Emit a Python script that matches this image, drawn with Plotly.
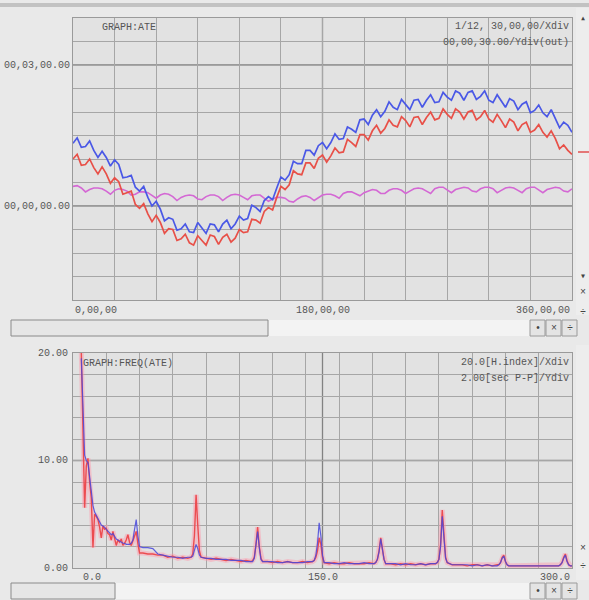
import plotly.graph_objects as go

W, H = 589, 600

# ---------------- DATA ----------------
# Top chart: angle (degrees) vs time offset (seconds)
DEG = list(range(0, 361, 3))
BLUE_SEC = [80, 87, 75, 76, 83, 71, 62, 70, 62, 51, 59, 53, 36, 37, 39, 24, 19, 25, 11, 0,
            6, -4, -19, -15, -17, -31, -29, -23, -33, -34, -21, -28, -35, -23, -24, -33, -23, -18, -29, -23,
            -13, -18, -16, 1, -2, -7, 7, 12, 8, 23, 37, 33, 40, 57, 54, 54, 71, 71, 65, 77,
            81, 73, 81, 92, 85, 86, 101, 98, 94, 110, 111, 104, 116, 123, 114, 121, 133, 126, 123, 136,
            130, 123, 135, 136, 126, 135, 142, 132, 133, 145, 139, 135, 147, 144, 135, 145, 147, 136, 140, 147,
            135, 132, 142, 134, 126, 137, 134, 123, 130, 133, 119, 122, 129, 119, 114, 123, 112, 100, 107, 103,
            94]
RED_SEC = [60, 66, 52, 53, 60, 49, 41, 50, 41, 29, 36, 31, 15, 17, 19, 2, -3, 3, -10, -20,
           -12, -21, -35, -29, -30, -44, -42, -36, -47, -50, -38, -44, -50, -37, -39, -49, -40, -36, -46, -41,
           -30, -34, -33, -17, -18, -22, -7, -2, -5, 11, 25, 21, 27, 45, 41, 40, 55, 55, 48, 61,
           65, 56, 64, 74, 68, 69, 85, 81, 76, 91, 91, 84, 96, 103, 93, 99, 110, 103, 101, 114,
           109, 101, 113, 114, 104, 113, 120, 110, 112, 124, 117, 112, 124, 120, 111, 120, 122, 110, 114, 122,
           111, 107, 117, 109, 100, 111, 107, 96, 104, 107, 94, 97, 104, 94, 88, 96, 86, 73, 78, 71,
           66]
MAGENTA_SEC = [25, 26, 23, 18, 21, 23, 23, 22, 19, 15, 20, 22, 21, 19, 14, 15, 18, 18, 17, 13,
               10, 14, 16, 15, 12, 7, 11, 13, 14, 13, 9, 8, 12, 14, 14, 12, 7, 11, 14, 15,
               14, 11, 8, 13, 14, 14, 10, 6, 9, 11, 11, 10, 6, 5, 9, 12, 13, 11, 7, 10,
               14, 15, 15, 13, 10, 16, 18, 18, 16, 13, 17, 19, 21, 20, 16, 16, 20, 22, 22, 20,
               16, 19, 22, 23, 22, 19, 16, 22, 24, 24, 21, 17, 21, 23, 24, 23, 19, 18, 22, 24,
               24, 22, 17, 20, 23, 24, 23, 20, 17, 22, 24, 24, 21, 17, 21, 23, 24, 23, 19, 18,
               22]

# Bottom chart: harmonic index vs amplitude (sec P-P)
H_INDEX = [5, 6, 7, 8, 9, 10, 11, 12, 13, 14, 15, 16, 17, 18, 19, 20, 21, 22, 23, 24,
           25, 26, 27, 28, 29, 30, 31, 32, 33, 34, 35, 36, 37, 38, 39, 40,
           42, 45, 48, 51, 54, 57, 60, 63, 66, 69, 71, 72, 73, 74, 75, 76, 77,
           80, 83, 86, 89, 92, 95, 98, 101, 104, 107, 108, 109, 110, 111, 112, 113, 114,
           117, 120, 123, 126, 129, 132, 135, 138, 141, 144, 145, 146, 147, 148, 149, 150, 151,
           154, 157, 160, 163, 166, 169, 172, 175, 178, 181, 182, 183, 184, 185, 186, 187, 188,
           191, 194, 197, 200, 203, 206, 209, 212, 215, 218, 219, 220, 221, 222, 223, 224, 225,
           228, 231, 234, 237, 240, 243, 246, 249, 252, 255, 256, 257, 258, 259, 260, 261, 262,
           265, 268, 271, 274, 277, 280, 283, 286, 289, 292, 293, 294, 295, 296, 297, 298, 299, 300]
RED_AMP = [20.0, 12.0, 5.6, 9.5, 10.2, 8.0, 6.5, 1.9, 5.0, 4.8, 4.5, 3.8, 2.8, 3.9, 3.6, 3.7, 3.2, 3.1, 2.6, 3.4,
           2.8, 2.1, 2.6, 2.4, 2.7, 2.1, 2.3, 2.6, 3.1, 2.4, 2.1, 2.5, 3.0, 3.4, 2.3, 1.4,
           1.4, 1.3, 1.3, 1.2, 1.2, 1.0, 1.1, 0.9, 1.0, 0.9, 1.0, 1.3, 3.0, 6.8, 4.0, 1.6, 1.0,
           0.9, 0.8, 0.9, 0.8, 0.7, 0.8, 0.7, 0.6, 0.7, 0.6, 0.7, 1.0, 2.2, 3.8, 2.0, 0.9, 0.6,
           0.6, 0.5, 0.6, 0.5, 0.6, 0.5, 0.5, 0.6, 0.5, 0.6, 0.7, 1.0, 1.6, 2.8, 2.2, 1.0, 0.5,
           0.4, 0.5, 0.4, 0.4, 0.5, 0.4, 0.4, 0.4, 0.5, 0.4, 0.5, 0.8, 1.6, 2.8, 1.8, 0.8, 0.4,
           0.4, 0.3, 0.4, 0.3, 0.4, 0.3, 0.4, 0.3, 0.4, 0.4, 0.5, 0.8, 2.2, 5.4, 3.0, 1.0, 0.5,
           0.3, 0.3, 0.3, 0.2, 0.3, 0.3, 0.2, 0.3, 0.2, 0.3, 0.3, 0.5, 1.0, 1.2, 0.6, 0.3, 0.2,
           0.2, 0.2, 0.2, 0.2, 0.2, 0.2, 0.2, 0.2, 0.2, 0.2, 0.3, 0.5, 1.0, 1.3, 0.7, 0.3, 0.2, 0.2]
BLUE_AMP = [19.5, 15.0, 10.5, 10.0, 9.8, 8.5, 7.1, 5.8, 5.2, 4.9, 4.6, 4.3, 4.0, 3.9, 3.8, 3.6, 3.4, 3.3, 3.1, 3.2,
            2.9, 2.7, 2.6, 2.5, 2.4, 2.3, 2.3, 2.2, 2.2, 2.2, 2.3, 2.6, 3.6, 4.5, 3.0, 2.0,
            1.9, 1.9, 1.8, 1.3, 1.2, 1.1, 1.0, 1.0, 0.9, 1.0, 1.0, 1.1, 1.6, 2.2, 1.8, 1.2, 1.0,
            0.9, 0.9, 0.8, 0.8, 0.8, 0.7, 0.7, 0.7, 0.6, 0.6, 0.6, 0.9, 2.0, 3.4, 1.9, 0.8, 0.6,
            0.6, 0.6, 0.5, 0.5, 0.6, 0.5, 0.5, 0.5, 0.6, 0.6, 0.7, 1.2, 2.3, 4.2, 3.0, 1.2, 0.5,
            0.5, 0.4, 0.4, 0.5, 0.4, 0.4, 0.4, 0.5, 0.4, 0.4, 0.5, 0.8, 1.5, 2.7, 1.7, 0.8, 0.4,
            0.4, 0.4, 0.3, 0.4, 0.3, 0.3, 0.4, 0.3, 0.4, 0.4, 0.5, 0.8, 2.0, 4.8, 2.8, 0.9, 0.5,
            0.3, 0.3, 0.3, 0.3, 0.2, 0.3, 0.2, 0.3, 0.2, 0.2, 0.3, 0.5, 0.9, 1.1, 0.6, 0.3, 0.2,
            0.2, 0.2, 0.2, 0.2, 0.2, 0.2, 0.2, 0.2, 0.2, 0.2, 0.3, 0.5, 0.9, 1.2, 0.6, 0.3, 0.2, 0.2]

TOP_X_TICKS = [0, 180, 360]
TOP_X_LABELS = ["0,00,00", "180,00,00", "360,00,00"]
TOP_Y_TICKS = [180, 0]
TOP_Y_LABELS = ["00,03,00.00", "00,00,00.00"]
BOT_X_TICKS = [0, 150, 300]
BOT_X_LABELS = ["0.0", "150.0", "300.0"]
BOT_Y_TICKS = [20, 10, 0]
BOT_Y_LABELS = ["20.00", "10.00", "0.00"]

# ---------------- STYLE / LAYOUT ----------------
FONT = "Liberation Mono, DejaVu Sans Mono, monospace"
TXT = "#555555"
PLOT_BG = "#e2e2e2"
PAPER_BG = "#e9e9e9"
GRID = "#a6a6a6"
MAJOR = "#828282"


def px(x):
    return x / W


def py(y):
    return 1 - y / H


X_DOM = [px(73), px(572)]
TOP_DOM = [py(300), py(18)]
BOT_DOM = [py(568), py(353)]

fig = go.Figure()

# top chart traces
fig.add_trace(go.Scatter(x=DEG, y=MAGENTA_SEC, mode="lines", line=dict(color="#d468d4", width=1.6),
                         xaxis="x", yaxis="y", hoverinfo="skip"))
fig.add_trace(go.Scatter(x=DEG, y=RED_SEC, mode="lines", line=dict(color="#e85048", width=1.7),
                         xaxis="x", yaxis="y", hoverinfo="skip"))
fig.add_trace(go.Scatter(x=DEG, y=BLUE_SEC, mode="lines", line=dict(color="#4a58e6", width=1.7),
                         xaxis="x", yaxis="y", hoverinfo="skip"))

# bottom chart traces
fig.add_trace(go.Scatter(x=H_INDEX, y=RED_AMP, mode="lines", line=dict(color="rgba(255,150,170,0.45)", width=5),
                         xaxis="x2", yaxis="y2", hoverinfo="skip"))
fig.add_trace(go.Scatter(x=H_INDEX, y=RED_AMP, mode="lines", line=dict(color="#ec4c50", width=1.4),
                         xaxis="x2", yaxis="y2", hoverinfo="skip"))
fig.add_trace(go.Scatter(x=H_INDEX, y=BLUE_AMP, mode="lines", line=dict(color="rgba(70,70,220,0.85)", width=1.2),
                         xaxis="x2", yaxis="y2", hoverinfo="skip"))

axis_common = dict(showgrid=True, gridcolor=GRID, gridwidth=1, zeroline=False, showticklabels=False,
                   ticks="", showline=True, linecolor="#9a9a9a", linewidth=1, mirror=True, fixedrange=True)

fig.update_layout(
    width=W, height=H,
    margin=dict(l=0, r=0, t=0, b=0, pad=0),
    paper_bgcolor=PAPER_BG, plot_bgcolor=PLOT_BG,
    showlegend=False,
    xaxis=dict(domain=X_DOM, range=[0, 360], dtick=30, tick0=0, anchor="y", **axis_common),
    yaxis=dict(domain=TOP_DOM, range=[-120, 240], dtick=30, tick0=0, anchor="x", **axis_common),
    xaxis2=dict(domain=X_DOM, range=[0, 300], dtick=20, tick0=0, anchor="y2", **axis_common),
    yaxis2=dict(domain=BOT_DOM, range=[0, 20], dtick=2, tick0=0, anchor="x2", **axis_common),
)

shapes = []
# darker major grid lines
shapes.append(dict(type="line", xref="x", yref="y domain", x0=180, x1=180, y0=0, y1=1,
                   line=dict(color=MAJOR, width=1.3), layer="below"))
for v in TOP_Y_TICKS:
    shapes.append(dict(type="line", xref="x domain", yref="y", x0=0, x1=1, y0=v, y1=v,
                       line=dict(color=MAJOR, width=1.3), layer="below"))
shapes.append(dict(type="line", xref="x2", yref="y2 domain", x0=150, x1=150, y0=0, y1=1,
                   line=dict(color=MAJOR, width=1.3), layer="below"))
shapes.append(dict(type="line", xref="x2 domain", yref="y2", x0=0, x1=1, y0=10, y1=10,
                   line=dict(color=MAJOR, width=1.3), layer="below"))

# GUI decorations (window chrome)
shapes.append(dict(type="rect", xref="paper", yref="paper", x0=0, x1=1, y0=py(7), y1=py(3),
                   fillcolor="#c2c2c2", line=dict(width=0), layer="below"))
shapes.append(dict(type="rect", xref="paper", yref="paper", x0=px(576), x1=1, y0=py(315), y1=py(8),
                   fillcolor="#ededed", line=dict(width=0), layer="below"))
shapes.append(dict(type="rect", xref="paper", yref="paper", x0=px(576), x1=1, y0=py(580), y1=py(345),
                   fillcolor="#ededed", line=dict(width=0), layer="below"))
shapes.append(dict(type="line", xref="paper", yref="paper", x0=px(578), x1=1, y0=py(152), y1=py(152),
                   line=dict(color="#e05050", width=1.5)))
for (y0, y1, x_end) in [(320, 336, 268), (583, 599, 115)]:
    shapes.append(dict(type="rect", xref="paper", yref="paper", x0=px(x_end), x1=px(530),
                       y0=py(y1), y1=py(y0), fillcolor="#f3f3f3", line=dict(width=0), layer="below"))
    shapes.append(dict(type="rect", xref="paper", yref="paper", x0=px(11), x1=px(x_end), y0=py(y1), y1=py(y0),
                       fillcolor="#e6e6e6", line=dict(color="#8a8a8a", width=1), layer="below"))
    for bx in [530, 546, 562]:
        shapes.append(dict(type="rect", xref="paper", yref="paper", x0=px(bx), x1=px(bx + 15),
                           y0=py(y1), y1=py(y0), fillcolor="#e4e4e4", line=dict(color="#9a9a9a", width=1),
                           layer="below"))
fig.update_layout(shapes=shapes)

ann = []
tf = dict(family=FONT, size=10, color=TXT)
# top chart labels
ann.append(dict(text="GRAPH:ATE", xref="paper", yref="paper", x=px(100), y=py(27), xanchor="left",
                yanchor="middle", showarrow=False, font=tf))
ann.append(dict(text="1/12, 30,00,00/Xdiv", xref="paper", yref="paper", x=px(571), y=py(26), xanchor="right",
                yanchor="middle", showarrow=False, font=tf))
ann.append(dict(text="00,00,30.00/Ydiv(out)", xref="paper", yref="paper", x=px(571), y=py(43), xanchor="right",
                yanchor="middle", showarrow=False, font=tf))
for v, lab in zip(TOP_Y_TICKS, TOP_Y_LABELS):
    ann.append(dict(text=lab, xref="paper", yref="y", x=px(72), y=v, xanchor="right", yanchor="middle",
                    showarrow=False, font=tf))
for v, lab, anc in zip(TOP_X_TICKS, TOP_X_LABELS, ["left", "center", "right"]):
    ann.append(dict(text=lab, xref="x", yref="paper", x=v, y=py(310), xanchor=anc, yanchor="middle",
                    showarrow=False, font=tf))
# bottom chart labels
ann.append(dict(text="GRAPH:FREQ(ATE)", xref="paper", yref="paper", x=px(81), y=py(363), xanchor="left",
                yanchor="middle", showarrow=False, font=tf))
ann.append(dict(text="20.0[H.index]/Xdiv", xref="paper", yref="paper", x=px(571), y=py(362), xanchor="right",
                yanchor="middle", showarrow=False, font=tf))
ann.append(dict(text="2.00[sec P-P]/Ydiv", xref="paper", yref="paper", x=px(571), y=py(378), xanchor="right",
                yanchor="middle", showarrow=False, font=tf))
for v, lab in zip(BOT_Y_TICKS, BOT_Y_LABELS):
    ann.append(dict(text=lab, xref="paper", yref="y2", x=px(70), y=v, xanchor="right", yanchor="middle",
                    showarrow=False, font=tf))
for v, lab, anc, sh in zip(BOT_X_TICKS, BOT_X_LABELS, ["left", "center", "right"], [8, 0, 0]):
    ann.append(dict(text=lab, xref="x2", yref="paper", x=v, xshift=sh, y=py(577), xanchor=anc, yanchor="middle",
                    showarrow=False, font=tf))
# GUI glyphs
gf = dict(family=FONT, size=10, color="#444444")
for yy in [328, 591]:
    for bx, g in zip([537.5, 553.5, 569.5], ["•", "×", "÷"]):
        ann.append(dict(text=g, xref="paper", yref="paper", x=px(bx), y=py(yy), xanchor="center",
                        yanchor="middle", showarrow=False, font=gf))
for yy, g in [(18, "▴"), (276, "▾"), (292, "×"), (312, "÷"), (548, "×"), (566, "÷")]:
    ann.append(dict(text=g, xref="paper", yref="paper", x=px(583), y=py(yy), xanchor="center",
                    yanchor="middle", showarrow=False, font=gf))
fig.update_layout(annotations=ann)

fig.write_html("out.html", config={"displayModeBar": False},
               post_script="document.body.style.margin='0';document.body.style.overflow='hidden';")
